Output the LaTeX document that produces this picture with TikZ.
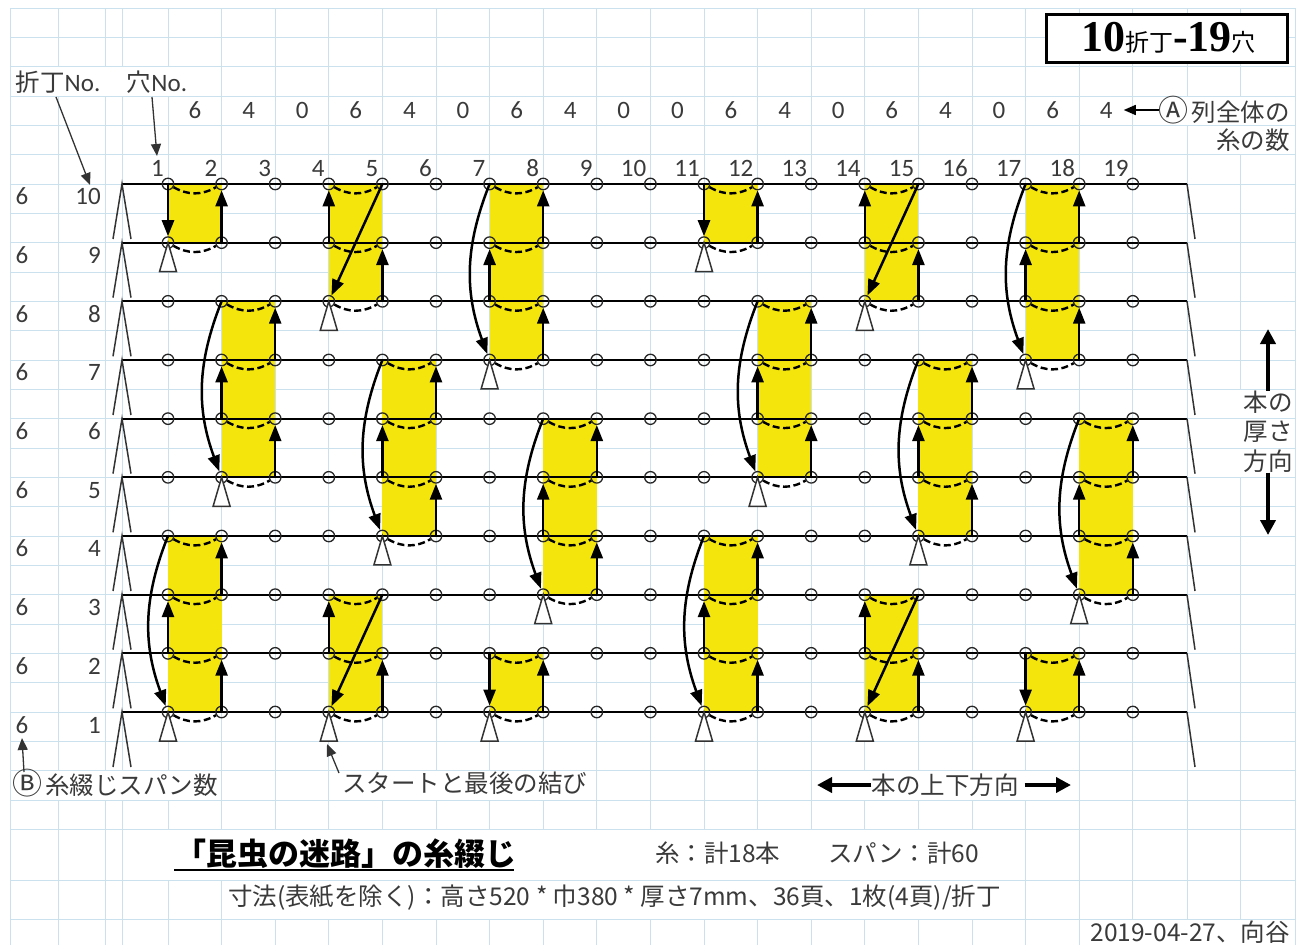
\documentclass[tikz,border=0pt]{standalone}
\usepackage{fontspec}
\setmainfont{Carlito}
\newfontfamily\jpfont{Noto Sans CJK JP}
\newfontfamily\boxfont{Liberation Serif}
\usetikzlibrary{arrows.meta}
\newcommand{\fs}[1]{\fontsize{#1}{#1}\selectfont}
\definecolor{sheetline}{HTML}{CBE2EE}
\definecolor{glue}{HTML}{F4E60C}
\definecolor{inktext}{HTML}{3A3A3A}
\tikzset{
  hole/.style={circle,draw=black!85,line width=1.3pt,minimum size=11.5pt,inner sep=0pt},
  thread/.style={line width=2.5pt,-{Triangle[length=16pt,width=12pt]}},
  seam/.style={line width=2.4pt,dash pattern=on 7pt off 3.5pt},
  thin arrow/.style={line width=1.3pt,draw=black!80,-{Triangle[length=12pt,width=10pt]}},
  wide arrow/.style={line width=4pt,-{Triangle[length=15pt,width=15pt]}},
  lab/.style={text=inktext,font=\fs{25},inner sep=0pt,text height=16pt,text depth=0pt},
  jplab/.style={text=inktext,font=\jpfont\fs{24.5},inner sep=0pt},
}
\begin{document}
\begin{tikzpicture}[x=1pt,y=-1pt]
\useasboundingbox (0,0) rectangle (1308,945);
% sheet grid
\foreach \gx in {10,58,105,122,168,221.6,275.2,328.8,382.4,436,489.6,543.2,596.8,650.4,704,757.6,811.2,864.8,918.4,972,1025.6,1079.2,1132.8,1187,1240,1295}
  \draw[sheetline,line width=1pt] (\gx,8) -- (\gx,945);
% merged cells
\foreach \xa/\ya/\xb/\yb in {10.6/67/221/97,1133.4/97/1294.4/126,1187.6/126/1294.4/155,10.6/770/221/800,329.4/770/596.2/800,811.8/770/1078.6/800,1187.6/389/1294.4/477,122.6/829/1025/880,222.2/880/1025/919,1079.8/919/1294.4/945}
  \fill[white] (\xa,\ya) rectangle (\xb,\yb);
\foreach \gy in {8,37.3,66.7,96,125.3,154.7,184,213.3,242.7,272,301.3,330.7,360,389.3,418.7,448,477.3,506.7,536,565.3,594.7,624,653.3,682.7,712,741.3,770.7,800,829,880,919}
  \draw[sheetline,line width=1pt] (10,\gy) -- (1295,\gy);
% positions
\foreach \c in {1,...,19}
  \foreach \r in {1,...,10}
    \coordinate (p\c-\r) at ({168+(\c-1)*53.6},{712-(\r-1)*58.67});
% glued spans
\foreach \a/\t/\b in {1/10/9,7/2/1,11/10/9,17/2/1,4/10/8,4/3/1,14/10/8,14/3/1,1/4/1,2/8/5,5/7/4,7/10/7,8/6/3,11/4/1,12/8/5,15/7/4,17/10/7,18/6/3}{
  \pgfmathtruncatemacro\n{\a+1}
  \fill[glue] (p\a-\t) rectangle (p\n-\b);
}
% folds
\foreach \r in {1,...,10}{
  \coordinate (fold\r) at (122,{712-(\r-1)*58.67});
  \coordinate (end\r) at (1187,{712-(\r-1)*58.67});
  \coordinate (foota\r) at (113,{767-(\r-1)*58.67});
  \coordinate (footb\r) at (131,{767-(\r-1)*58.67});
  \coordinate (footc\r) at (1195,{767-(\r-1)*58.67});
  \draw[line width=2pt] (fold\r) -- (end\r);
  \draw[line width=1.5pt,black!80] (foota\r) -- (fold\r) -- (footb\r);
  \draw[line width=1.5pt,black!80] (end\r) -- (footc\r);
}
% holes
\foreach \c in {1,...,19}
  \foreach \r in {1,...,10}
    \node[hole] (h\c-\r) at (p\c-\r) {};
% seams on the folds
\foreach \a/\t/\b in {1/10/9,7/2/1,11/10/9,17/2/1,4/10/8,4/3/1,14/10/8,14/3/1,1/4/1,2/8/5,5/7/4,7/10/7,8/6/3,11/4/1,12/8/5,15/7/4,17/10/7,18/6/3}{
  \pgfmathtruncatemacro\n{\a+1}
  \foreach \r in {\b,...,\t}
    \draw[seam] (h\a-\r) to[bend right=30] (h\n-\r);
  \draw[line width=1.5pt,black!80,fill=white] (p\a-\b) -- ++(-8.5,29) -- ++(17,0) -- cycle;
}
% span of one fold
\foreach \a/\t/\b in {1/10/9,7/2/1,11/10/9,17/2/1}{
  \pgfmathtruncatemacro\n{\a+1}
  \draw[thread] (h\a-\t.center) -- (h\a-\b);
  \draw[thread] (h\n-\b.center) -- (h\n-\t);
}
% span of two folds
\foreach \a/\t/\b in {4/10/8,4/3/1,14/10/8,14/3/1}{
  \pgfmathtruncatemacro\n{\a+1}
  \pgfmathtruncatemacro\m{\b+1}
  \draw[thread] (h\a-\m.center) -- (h\a-\t);
  \draw[thread] (h\n-\b.center) -- (h\n-\m);
  \draw[thread] (h\n-\t.center) -- (h\a-\b);
}
% span of three folds
\foreach \a/\t/\b in {1/4/1,2/8/5,5/7/4,7/10/7,8/6/3,11/4/1,12/8/5,15/7/4,17/10/7,18/6/3}{
  \pgfmathtruncatemacro\n{\a+1}
  \pgfmathtruncatemacro\m{\b+1}
  \pgfmathtruncatemacro\l{\b+2}
  \draw[thread] (h\a-\m.center) -- (h\a-\l);
  \draw[thread] (h\n-\b.center) -- (h\n-\m);
  \draw[thread] (h\n-\l.center) -- (h\n-\t);
  \draw[thread] (h\a-\t.center) to[bend right=21] (h\a-\b);
}
% hole and fold numbers
\foreach \c in {1,...,19}
  \node[lab,anchor=east] (holeno\c) at ({168+(\c-1)*53.6-4},168) {\c};
\foreach \r in {1,...,10}{
  \node[lab,anchor=east] (foldno\r) at (101,{725-(\r-1)*58.67}) {\r};
  \node[lab] (spanno\r) at (22,{725-(\r-1)*58.67}) {6};
}
\foreach \c/\v in {1/6,2/4,3/0,4/6,5/4,6/0,7/6,8/4,9/0,10/0,11/6,12/4,13/0,14/6,15/4,16/0,17/6,18/4}
  \node[lab] (count\c) at ({195+(\c-1)*53.6},110) {\v};
% notes
\node[jplab] (foldnote) at (58,82) {折丁{\normalfont\fs{25}No.}};
\node[jplab] (holenote) at (157,82) {穴{\normalfont\fs{25}No.}};
\coordinate (foldtail) at (56,97);
\coordinate (foldtip) at (90,185);
\coordinate (holetail) at (152,97);
\coordinate (holetip) at (157,156);
\draw[thin arrow] (foldtail) -- (foldtip);
\draw[thin arrow] (holetail) -- (holetip);
\node[jplab,anchor=east] (colnote) at (1290,110) {{\fs{30}Ⓐ}\hspace{3pt}列全体の};
\node[jplab,anchor=east] (colnoteb) at (1290,140) {糸の数};
\draw[line width=1.5pt,-{Triangle[length=12pt,width=10pt]},shorten >=11pt] (colnote.west) -- (count18.east);
\node[jplab,anchor=west] (spannote) at (12,783) {{\fs{30}Ⓑ}\hspace{3pt}糸綴じスパン数};
\coordinate (spantail) at (24,772);
\coordinate (spantip) at (22,738);
\draw[thin arrow] (spantail) -- (spantip);
\node[jplab,anchor=west] (startnote) at (342,783) {スタートと最後の結び};
\coordinate (starttail) at (339,773);
\coordinate (starttip) at (327,744);
\draw[thin arrow] (starttail) -- (starttip);
\node[jplab] (lengthnote) at (945,785) {本の上下方向};
\coordinate (lengthleft) at (817,785);
\coordinate (lengthright) at (1071,785);
\draw[wide arrow] (lengthnote.west) -- (lengthleft);
\draw[wide arrow,shorten <=6pt] (lengthnote.east) -- (lengthright);
\node[jplab] (thicka) at (1268,402) {本の};
\node[jplab] (thickb) at (1268,432) {厚さ};
\node[jplab] (thickc) at (1268,461) {方向};
\coordinate (thicktop) at (1268,329);
\coordinate (thickbottom) at (1268,535);
\draw[wide arrow] (thicka.north) -- (thicktop);
\draw[wide arrow] (thickc.south) -- (thickbottom);
% title block
\node[draw,line width=3pt,fill=white,minimum width=241pt,minimum height=48pt,inner sep=0pt] (titlebox) at (1166.5,38) {\hspace*{4pt}\boxfont\bfseries\fs{44}10{\jpfont\mdseries\fs{24}折丁}-19{\jpfont\mdseries\fs{24}穴}};
\node[anchor=west,font=\jpfont\bfseries\fs{31},inner sep=0pt,text=black] (booktitle) at (175,854) {「昆虫の迷路」の糸綴じ};
\coordinate (ruleleft) at (174,870);
\coordinate (ruleright) at (514,870);
\draw[line width=2pt] (ruleleft) -- (ruleright);
\node[jplab,anchor=west] (threads) at (655,853) {糸：計18本};
\node[jplab,anchor=west] (spans) at (828,853) {スパン：計60};
\node[jplab,anchor=west] (sizes) at (228,898) {寸法(表紙を除く)：高さ520 * 巾380 * 厚さ7mm、36頁、1枚(4頁)/折丁};
\node[jplab,anchor=east] (stamp) at (1290,932) {2019-04-27、向谷};
\end{tikzpicture}
\end{document}
